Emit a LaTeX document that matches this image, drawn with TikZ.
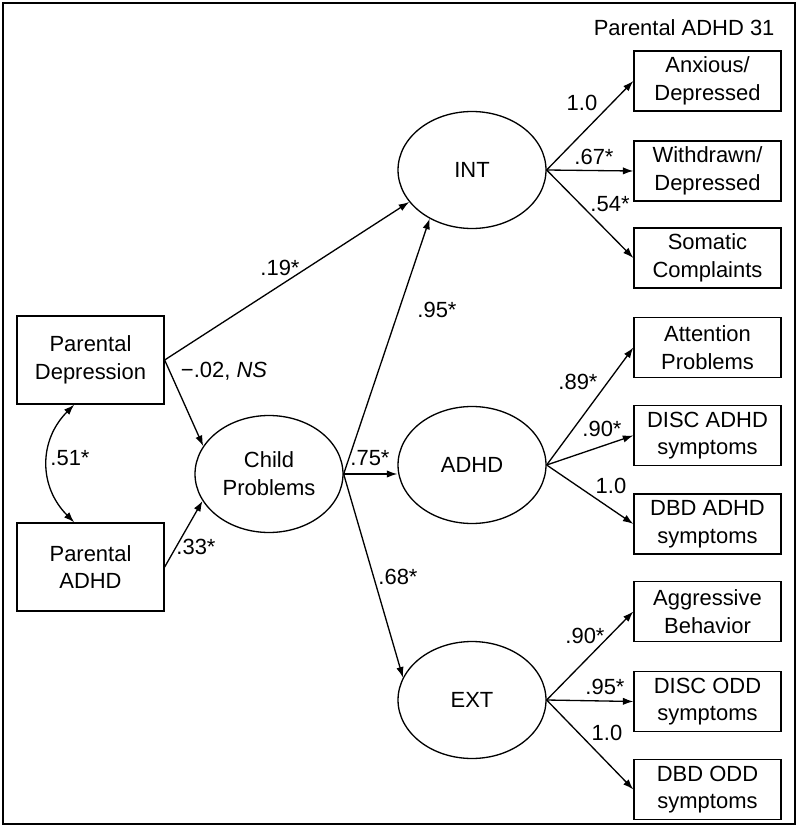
\documentclass[tikz,border=0pt]{standalone}
\usepackage{fontspec}
\setmainfont{Liberation Sans}
\usetikzlibrary{shapes.geometric,arrows.meta}

\begin{document}
\begin{tikzpicture}[x=0.02cm,y=-0.02cm,line width=0.75pt,
        font=\fontsize{12.5}{15.8}\selectfont,
        >={Latex[length=6pt,width=4.2pt]},
        obs/.style={draw, rectangle, minimum width=2.94cm, minimum height=1.2cm, inner sep=0pt, align=center},
        parbox/.style={obs, minimum height=1.76cm},
        latent/.style={draw, ellipse, minimum width=2.96cm, minimum height=2.34cm, inner sep=0pt, align=center},
        coef/.style={inner sep=1pt}]
        \useasboundingbox (0,0) rectangle (800,834);
        \draw (3,3) rectangle (795,824);
        \node[anchor=east] (title) at (781,28) {Parental ADHD 31};
        % parents
        \node[parbox] (pdep) at (90.5,360) {Parental\\Depression};
        \node[parbox] (padhd) at (90.5,567) {Parental\\ADHD};
        % latent factors
        \node[latent] (child) at (269,474) {Child\\Problems};
        \node[latent] (int) at (472,170) {INT};
        \node[latent] (adhd) at (472,465) {ADHD};
        \node[latent] (ext) at (472,700) {EXT};
        % indicators
        \node[obs] (anx) at (707.5,81) {Anxious/\\Depressed};
        \node[obs] (wd) at (707.5,171) {Withdrawn/\\Depressed};
        \node[obs] (som) at (707.5,258) {Somatic\\Complaints};
        \node[obs] (att) at (707.5,347.5) {Attention\\Problems};
        \node[obs] (discadhd) at (707.5,435.5) {DISC ADHD\\symptoms};
        \node[obs] (dbdadhd) at (707.5,524) {DBD ADHD\\symptoms};
        \node[obs] (agg) at (707.5,611.5) {Aggressive\\Behavior};
        \node[obs] (discodd) at (707.5,701.5) {DISC ODD\\symptoms};
        \node[obs] (dbdodd) at (707.5,789.5) {DBD ODD\\symptoms};
        % paths
        \draw[<->] (pdep.250) to[out=225,in=135,looseness=1.1] (padhd.110);
        \draw[->] (pdep.east) -- (int.207);
        \draw[->] (pdep.east) -- (child.157);
        \draw[->] (padhd.east) -- (child.202);
        \draw[->] (child.east) -- (int.229);
        \draw[->] (child.east) -- (child.east -| adhd.west);
        \draw[->] (child.east) -- (ext.162);
        \foreach \ind in {anx,wd,som}
        \draw[->] (int.east) -- (\ind.west);
        \foreach \ind in {att,discadhd,dbdadhd}
        \draw[->] (adhd.east) -- (\ind.west);
        \foreach \ind in {agg,discodd,dbdodd}
        \draw[->] (ext.east) -- (\ind.west);
        % coefficients
        \node[coef] (c51) at (70,458) {.51*};
        \node[coef] (c19) at (280,268) {.19*};
        \node[coef] (c02) at (224,371) {−.02, \textit{NS}};
        \node[coef] (c33) at (196,547) {.33*};
        \node[coef] (c95) at (437,310) {.95*};
        \node[coef] (c75) at (370,458) {.75*};
        \node[coef] (c68) at (398,577) {.68*};
        \node[coef] (c10a) at (582,103) {1.0};
        \node[coef] (c67) at (594,157) {.67*};
        \node[coef] (c54) at (610,204) {.54*};
        \node[coef] (c89) at (578,382) {.89*};
        \node[coef] (c90a) at (602,429) {.90*};
        \node[coef] (c10b) at (611,486) {1.0};
        \node[coef] (c90b) at (585,636) {.90*};
        \node[coef] (c95b) at (605,687) {.95*};
        \node[coef] (c10c) at (607,733) {1.0};
\end{tikzpicture}
\end{document}
